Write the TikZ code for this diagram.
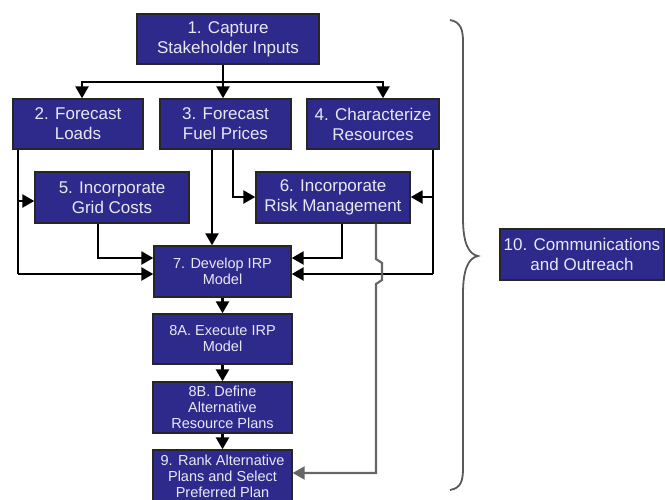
\documentclass[tikz,border=0pt]{standalone}
\usepackage{fontspec}
\setmainfont{Liberation Sans}
\usetikzlibrary{arrows.meta}
\definecolor{boxblue}{RGB}{46,42,140}
\definecolor{boxtext}{RGB}{232,232,242}
\begin{document}
\begin{tikzpicture}[x=1pt,y=-1pt,
  box/.style={draw=black!85,fill=boxblue,text=boxtext,line width=1.4pt,inner sep=0pt,align=center},
  big/.style={box,font=\fontsize{17}{20}\selectfont},
  small/.style={box,font=\fontsize{14.5}{16}\selectfont},
  conn/.style={draw=black,line width=2.5pt},
  arr/.style={conn,-{Triangle[length=12pt,width=13pt]}},
  grayline/.style={draw=black!60,line width=2.2pt,-{Triangle[length=12pt,width=13pt]}}]
\useasboundingbox (0,0) rectangle (665,499);
% boxes
\node[big,minimum width=182pt,minimum height=50pt] (b1) at (228,39) {1. Capture\\Stakeholder Inputs};
\node[big,minimum width=130pt,minimum height=50pt] (b2) at (78,124) {2. Forecast\\Loads};
\node[big,minimum width=131pt,minimum height=50pt] (b3) at (225.5,124) {3. Forecast\\Fuel Prices};
\node[big,minimum width=132pt,minimum height=50pt] (b4) at (373,124) {4. Characterize\\Resources};
\node[big,minimum width=154pt,minimum height=51pt] (b5) at (112,197.5) {5. Incorporate\\Grid Costs};
\node[big,minimum width=154pt,minimum height=51pt] (b6) at (333,197.5) {6. Incorporate\\Risk Management};
\node[small,minimum width=137pt,minimum height=51pt] (b7) at (222.5,271.5) {7. Develop IRP\\Model};
\node[small,minimum width=139pt,minimum height=50pt] (b8a) at (222.5,339) {8A. Execute IRP\\Model};
\node[small,minimum width=139pt,minimum height=51pt] (b8b) at (222.5,407.5) {8B. Define\\Alternative\\Resource Plans};
\node[small,minimum width=139pt,minimum height=52pt] (b9) at (222.5,476) {9. Rank Alternative\\Plans and Select\\Preferred Plan};
\node[big,minimum width=164pt,minimum height=51pt] (b10) at (582,254.5) {10. Communications\\and Outreach};
% top distribution
\coordinate (j) at (223,82);
\coordinate (j2) at (82,82);
\coordinate (j4) at (383,82);
\draw[conn] (b1.south -| j) -- (j);
\draw[arr] (j) -- (j |- b3.north);
\draw[arr] (j) -- (j2) -- (j2 |- b2.north);
\draw[arr] (j) -- (j4) -- (j4 |- b4.north);
% from 2
\coordinate (a1) at (18,201);
\coordinate (a2) at (18,274);
\draw[conn] (b2.south -| a1) -- (a2);
\draw[arr] (a2) -- (a2 -| b7.west);
\draw[arr] (a1) -- (a1 -| b5.west);
% from 3
\coordinate (c1) at (212,149);
\coordinate (c2) at (233,197);
\draw[arr] (b3.south -| c1) -- (c1 |- b7.north);
\draw[arr] (b3.south -| c2) -- (c2) -- (c2 -| b6.west);
% from 4
\coordinate (d1) at (433,197);
\coordinate (d2) at (433,274);
\draw[conn] (b4.south -| d1) -- (d2);
\draw[arr] (d2) -- (d2 -| b7.east);
\draw[arr] (d1) -- (d1 -| b6.east);
% from 5 and 6 to 7
\coordinate (e1) at (98,258);
\draw[arr] (b5.south -| e1) -- (e1) -- (e1 -| b7.west);
\coordinate (f1) at (342,258);
\draw[arr] (b6.south -| f1) -- (f1) -- (f1 -| b7.east);
% from 6 to 9 with line hop
\coordinate (h1) at (376,259);
\coordinate (h2) at (382,263);
\coordinate (h3) at (382,280);
\coordinate (h4) at (376,284);
\coordinate (h5) at (376,473);
\draw[grayline] (b6.south -| h1) -- (h1) -- (h2) -- (h3) -- (h4) -- (h5) -- (h5 -| b9.east);
% chain
\draw[arr] (b7.south) -- (b8a.north);
\draw[arr] (b8a.south) -- (b8b.north);
\draw[arr] (b8b.south) -- (b9.north);
% brace
\draw[draw=black!65,line width=1.8pt] (450,20) .. controls (461,22) and (463,30) .. (463,42) -- (463,218) .. controls (463,242) and (468,254) .. (478,256) .. controls (468,258) and (463,270) .. (463,294) -- (463,468) .. controls (463,481) and (461,488) .. (450,490);
\end{tikzpicture}
\end{document}
